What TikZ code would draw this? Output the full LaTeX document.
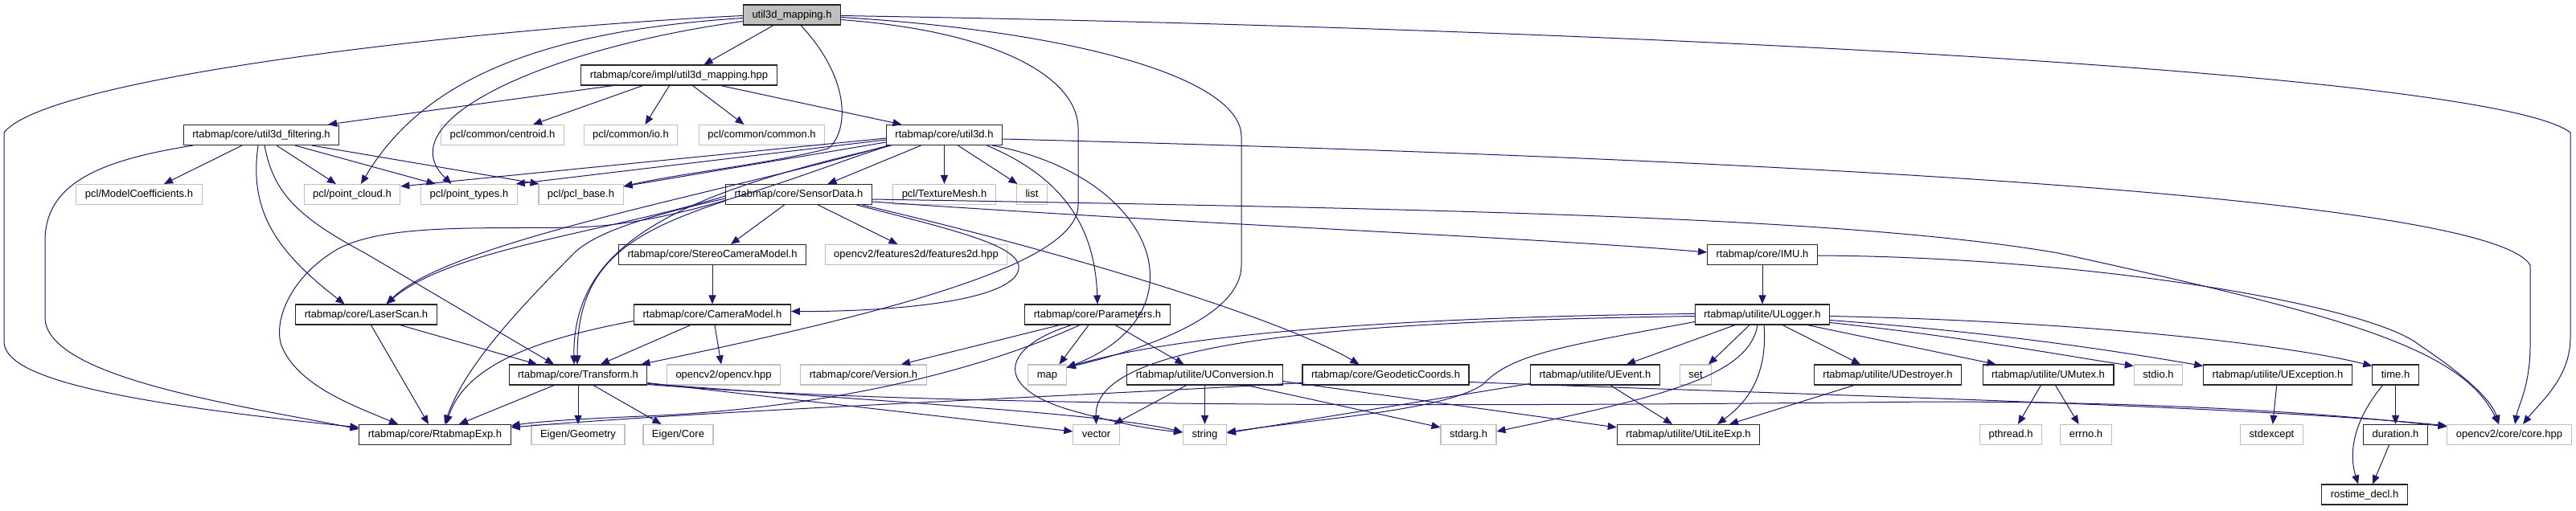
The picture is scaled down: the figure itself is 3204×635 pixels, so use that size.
\documentclass[tikz,border=0pt]{standalone}
\usepackage{fontspec}
\setmainfont{Liberation Sans}
\usetikzlibrary{arrows.meta}
\definecolor{edgeblue}{HTML}{191970}
\definecolor{extgray}{HTML}{BFBFBF}
\definecolor{mainfill}{HTML}{BFBFBF}
\tikzset{
  box/.style={rectangle, inner xsep=11pt, inner ysep=0pt, minimum height=25pt,
    text height=9.6pt, text depth=2.6pt, font=\fontsize{13}{15}\selectfont, fill=white, line width=1.1pt},
  doc/.style={box, draw=black!85},
  ext/.style={box, draw=extgray},
  mainbox/.style={box, draw=black!85, fill=mainfill},
  e/.style={draw=edgeblue, line width=1pt, -{Triangle[length=11pt,width=9pt]}, fill=none}
}
\begin{document}
\begin{tikzpicture}[x=1pt,y=-1pt]
\useasboundingbox[fill=white] (0,0) rectangle (3204,635);
% row 0-1
\node[mainbox] (main) at (985,18.5) {util3d\_mapping.h};
\node[doc] (impl) at (844.5,93.5) {rtabmap/core/impl/util3d\_mapping.hpp};
% row 2
\node[doc] (filt) at (325,168) {rtabmap/core/util3d\_filtering.h};
\node[ext] (cent) at (625,168) {pcl/common/centroid.h};
\node[ext] (io) at (784.5,168) {pcl/common/io.h};
\node[ext] (comm) at (947.5,168) {pcl/common/common.h};
\node[doc] (u3d) at (1174.5,168) {rtabmap/core/util3d.h};
% row 3
\node[ext] (mc) at (173,242) {pcl/ModelCoefficients.h};
\node[ext] (pc) at (438,242) {pcl/point\_cloud.h};
\node[ext] (pt) at (583.5,242) {pcl/point\_types.h};
\node[ext] (pb) at (722.5,242) {pcl/pcl\_base.h};
\node[doc] (sd) at (993.5,242) {rtabmap/core/SensorData.h};
\node[ext] (tm) at (1174.5,242) {pcl/TextureMesh.h};
\node[ext] (list) at (1283.5,242) {list};
% row 4
\node[doc] (scm) at (886,317) {rtabmap/core/StereoCameraModel.h};
\node[ext] (f2d) at (1139.5,317) {opencv2/features2d/features2d.hpp};
\node[doc] (imu) at (2192,317) {rtabmap/core/IMU.h};
% row 5
\node[doc] (ls) at (455.5,391.5) {rtabmap/core/LaserScan.h};
\node[doc] (cm) at (886,391.5) {rtabmap/core/CameraModel.h};
\node[doc] (par) at (1365,391.5) {rtabmap/core/Parameters.h};
\node[doc] (ulog) at (2192,391.5) {rtabmap/utilite/ULogger.h};
% row 6
\node[doc] (tr) at (719,466.5) {rtabmap/core/Transform.h};
\node[ext] (ocv) at (900,466.5) {opencv2/opencv.hpp};
\node[ext] (ver) at (1074,466.5) {rtabmap/core/Version.h};
\node[ext] (map) at (1302.5,466.5) {map};
\node[doc] (uconv) at (1498.5,466.5) {rtabmap/utilite/UConversion.h};
\node[doc] (geo) at (1723.5,466.5) {rtabmap/core/GeodeticCoords.h};
\node[doc] (uev) at (1984,466.5) {rtabmap/utilite/UEvent.h};
\node[ext] (set) at (2109,466.5) {set};
\node[doc] (udes) at (2348,466.5) {rtabmap/utilite/UDestroyer.h};
\node[doc] (umut) at (2547.5,466.5) {rtabmap/utilite/UMutex.h};
\node[ext] (stdio) at (2684.5,466.5) {stdio.h};
\node[doc] (uexc) at (2833,466.5) {rtabmap/utilite/UException.h};
\node[doc] (time) at (2979.5,466.5) {time.h};
% row 7
\node[doc] (rexp) at (541,541) {rtabmap/core/RtabmapExp.h};
\node[ext] (eg) at (719,541) {Eigen/Geometry};
\node[ext] (ec) at (843.5,541) {Eigen/Core};
\node[ext] (vec) at (1363.5,541) {vector};
\node[ext] (str) at (1498.5,541) {string};
\node[ext] (sa) at (1826.5,541) {stdarg.h};
\node[doc] (ule) at (2100,541) {rtabmap/utilite/UtiLiteExp.h};
\node[ext] (pth) at (2501,541) {pthread.h};
\node[ext] (errno) at (2594.5,541) {errno.h};
\node[ext] (sexc) at (2825.5,541) {stdexcept};
\node[doc] (dur) at (2979.5,541) {duration.h};
\node[ext] (core) at (3121,541) {opencv2/core/core.hpp};
% row 8
\node[doc] (rost) at (2941,615.5) {rostime\_decl.h};

% ---- edges from util3d_mapping.h
\draw[e] ([xshift=-23pt]main.south) -- ([xshift=31pt]impl.north);
\draw[e] ([yshift=-1pt]main.west) .. controls (600,35) and (60,95) .. (5,165) -- (5,425) .. controls (5,470) and (140,500) .. ([yshift=9pt]rexp.west);
\draw[e] ([yshift=-4pt]main.west) .. controls (650,40) and (520,110) .. ([xshift=11pt]pc.north);
\draw[e] ([yshift=-8pt]main.west) .. controls (680,60) and (480,150) .. ([xshift=-22pt]pt.north);
\draw[e] ([xshift=11pt]main.south) .. controls (1060,100) and (1055,165) .. (1030,185) .. controls (950,205) and (850,215) .. ([yshift=-3pt]pb.north east);
\draw[e] ([yshift=-1pt]main.east) .. controls (2000,35) and (3100,90) .. (3197,165) -- (3197,420) .. controls (3197,470) and (3160,500) .. ([xshift=17pt]core.north);
\draw[e] ([yshift=-6pt]main.east) .. controls (1250,40) and (1341,100) .. (1341,160) -- (1341,255) .. controls (1341,330) and (1100,390) .. ([xshift=-8pt]tr.north east);
\draw[e] ([yshift=-3pt]main.east) .. controls (1350,40) and (1544,100) .. (1544,170) -- (1544,330) .. controls (1544,400) and (1400,440) .. ([yshift=-4pt]map.north east);

% ---- impl
\draw[e] ([xshift=-82pt]impl.south) -- ([xshift=83pt]filt.north);
\draw[e] ([xshift=-45pt]impl.south) -- ([xshift=38pt]cent.north);
\draw[e] ([xshift=-12pt]impl.south) -- ([xshift=18pt]io.north);
\draw[e] ([xshift=17pt]impl.south) -- ([xshift=-22pt]comm.north);
\draw[e] ([xshift=52pt]impl.south) -- ([xshift=-53pt]u3d.north);

% ---- util3d_filtering
\draw[e] ([xshift=-85pt]filt.south) .. controls (120,200) and (56,230) .. (56,300) -- (56,395) .. controls (56,470) and (300,505) .. ([yshift=7pt]rexp.west);
\draw[e] ([xshift=-24pt]filt.south) -- ([xshift=31pt]mc.north);
\draw[e] ([xshift=-4pt]filt.south) .. controls (310,260) and (340,310) .. ([xshift=-27pt]ls.north);
\draw[e] ([xshift=4pt]filt.south) .. controls (340,240) and (370,270) .. (454,315) -- ([xshift=-30pt]tr.north);
\draw[e] ([xshift=19pt]filt.south) -- ([xshift=-20pt]pc.north);
\draw[e] ([xshift=42pt]filt.south) -- ([xshift=-42pt]pt.north);
\draw[e] ([xshift=63pt]filt.south) -- ([xshift=-52pt]pb.north);

% ---- util3d
\draw[e] ([yshift=-4pt]u3d.west) -- ([yshift=-3pt]pc.north east);
\draw[e] ([yshift=-6pt]u3d.west) -- ([xshift=-2pt]pt.north east);
\draw[e] ([yshift=-9pt]u3d.west) -- ([yshift=-3pt]pb.north east);
\draw[e] (u3d.south) -- (tm.north);
\draw[e] ([xshift=17pt]u3d.south) -- ([xshift=-18pt]list.north);
\draw[e] ([xshift=-29pt]u3d.south) -- ([xshift=36pt]sd.north);
\draw[e] ([xshift=53pt]u3d.south) .. controls (1320,220) and (1362,280) .. (par.north);
\draw[e] ([xshift=60pt]u3d.south) .. controls (1440,220) and (1500,390) .. ([yshift=-4pt]map.north east);
\draw[e] ([yshift=-5pt]u3d.east) .. controls (2300,200) and (3100,250) .. (3147,330) -- (3147,430) .. controls (3147,480) and (3132,505) .. ([xshift=7pt]core.north);
\draw[e] ([xshift=-68pt]u3d.south) .. controls (1000,215) and (850,280) .. (713,283) .. controls (600,285) and (480,278) .. (420,310) .. controls (360,345) and (340,400) .. (350,430) .. controls (370,480) and (440,505) .. ([xshift=-46pt]rexp.north);
\draw[e] ([xshift=-70pt]u3d.south) .. controls (900,240) and (560,300) .. ([xshift=25pt]ls.north);
\draw[e] ([xshift=-66pt]u3d.south) .. controls (850,240) and (712,300) .. ([xshift=-5pt]tr.north);

% ---- SensorData
\draw[e] ([xshift=-18pt]sd.south) -- ([xshift=23pt]scm.north);
\draw[e] ([xshift=24pt]sd.south) -- ([xshift=-23pt]f2d.north);
\draw[e] ([xshift=72pt]sd.south) .. controls (1200,290) and (1290,310) .. (1262,345) .. controls (1230,380) and (1080,388) .. ([yshift=4pt]cm.east);
\draw[e] ([xshift=79pt]sd.south) .. controls (1350,320) and (1600,400) .. ([xshift=-33pt]geo.north);
\draw[e] ([yshift=-9pt]sd.east) .. controls (1500,280) and (1900,295) .. ([yshift=3pt]imu.west);
\draw[e] ([yshift=-6pt]sd.east) .. controls (1800,260) and (2300,270) .. (2560,315) .. controls (2900,390) and (3060,430) .. ([xshift=-13pt]core.north);
\draw[e] ([yshift=-5pt]sd.west) .. controls (800,270) and (740,290) .. (714,315) .. controls (660,370) and (580,450) .. ([xshift=12pt]rexp.north);
\draw[e] ([yshift=-2pt]sd.west) .. controls (750,290) and (560,310) .. ([xshift=25pt]ls.north);
\draw[e] ([yshift=-8pt]sd.west) .. controls (780,290) and (718,330) .. ([xshift=-1pt]tr.north);

% ---- StereoCameraModel, CameraModel, LaserScan
\draw[e] (scm) -- (cm);
\draw[e] ([xshift=-27pt]cm.south) -- ([xshift=28pt]tr.north);
\draw[e] ([xshift=3pt]cm.south) -- ([xshift=-3pt]ocv.north);
\draw[e] ([yshift=-8pt]cm.west) .. controls (680,420) and (580,450) .. ([xshift=14pt]rexp.north);
\draw[e] ([xshift=6pt]ls.south) -- ([xshift=-8pt]rexp.north);
\draw[e] ([xshift=42pt]ls.south) -- ([xshift=-51pt]tr.north);

% ---- Transform
\draw[e] ([xshift=-30pt]tr.south) -- ([xshift=30pt]rexp.north);
\draw[e] (tr) -- (eg);
\draw[e] ([xshift=19pt]tr.south) -- ([xshift=-21pt]ec.north);
\draw[e] ([yshift=-10pt]tr.east) -- ([yshift=4pt]vec.west);
\draw[e] ([yshift=-11pt]tr.east) .. controls (1100,500) and (1380,515) .. ([yshift=3pt]str.west);
\draw[e] ([yshift=-12pt]tr.east) .. controls (1200,510) and (1900,505) .. (2400,500) .. controls (2700,500) and (2900,515) .. ([yshift=-3pt]core.north west);

% ---- Parameters
\draw[e] ([xshift=-47pt]par.south) -- ([xshift=47pt]ver.north);
\draw[e] ([xshift=-11pt]par.south) -- ([xshift=15pt]map.north);
\draw[e] ([xshift=22pt]par.south) -- ([xshift=-26pt]uconv.north);
\draw[e] ([xshift=-32pt]par.south) .. controls (1250,430) and (1230,480) .. (1330,510) .. controls (1400,530) and (1440,535) .. ([yshift=3pt]str.west);
\draw[e] ([xshift=-22pt]par.south) .. controls (1200,470) and (1000,510) .. (800,518) .. controls (700,522) and (660,526) .. ([yshift=-2pt]rexp.north east);

% ---- UConversion, GeodeticCoords
\draw[e] ([xshift=-23pt]uconv.south) -- ([xshift=22pt]vec.north);
\draw[e] (uconv) -- (str);
\draw[e] ([xshift=52pt]uconv.south) -- ([yshift=-4pt]sa.north west);
\draw[e] ([yshift=-8pt]uconv.east) -- ([yshift=-4pt]ule.north west);
\draw[e] ([yshift=-10pt]geo.west) .. controls (1300,495) and (900,510) .. ([yshift=-4pt]rexp.north east);
\draw[e] ([yshift=-9pt]geo.east) .. controls (2200,490) and (2800,505) .. ([yshift=-2pt]core.north west);

% ---- IMU
\draw[e] (imu) -- (ulog);
\draw[e] ([yshift=-1pt]imu.east) .. controls (2600,320) and (2950,380) .. (3010,430) .. controls (3070,470) and (3100,500) .. ([xshift=-13pt]core.north);

% ---- ULogger
\draw[e] ([yshift=1pt]ulog.west) .. controls (1700,395) and (1450,420) .. ([yshift=-4pt]map.north east);
\draw[e] ([yshift=-2pt]ulog.west) .. controls (1700,400) and (1360,420) .. (vec.north);
\draw[e] ([yshift=-9pt]ulog.west) .. controls (1950,430) and (1880,440) .. (1845,478) .. controls (1800,510) and (1650,520) .. ([yshift=3pt]str.east);
\draw[e] ([xshift=-34pt]ulog.south) -- ([xshift=39pt]uev.north);
\draw[e] ([xshift=-16pt]ulog.south) -- ([xshift=16pt]set.north);
\draw[e] ([xshift=-6pt]ulog.south) .. controls (2175,470) and (2060,495) .. ([yshift=4pt]sa.east);
\draw[e] ([xshift=2pt]ulog.south) .. controls (2200,480) and (2160,510) .. ([xshift=36pt]ule.north);
\draw[e] ([xshift=25pt]ulog.south) -- ([xshift=-34pt]udes.north);
\draw[e] ([xshift=56pt]ulog.south) -- ([xshift=-65pt]umut.north);
\draw[e] ([yshift=-10pt]ulog.east) .. controls (2450,420) and (2580,445) .. ([yshift=-2pt]stdio.north west);
\draw[e] ([yshift=-7pt]ulog.east) .. controls (2500,415) and (2650,440) .. ([yshift=-2pt]uexc.north west);
\draw[e] ([yshift=-2pt]ulog.east) .. controls (2600,400) and (2850,430) .. ([yshift=-2pt]time.north west);

% ---- utilite leaves
\draw[e] ([yshift=-11pt]uev.west) -- ([yshift=2pt]str.east);
\draw[e] ([xshift=19pt]uev.south) -- ([xshift=-20pt]ule.north);
\draw[e] ([xshift=-42pt]udes.south) -- ([xshift=51pt]ule.north);
\draw[e] ([xshift=-9pt]umut.south) -- ([xshift=9pt]pth.north);
\draw[e] ([xshift=9pt]umut.south) -- ([xshift=-9pt]errno.north);
\draw[e] (uexc) -- (sexc);
\draw[e] (time) -- (dur);
\draw[e] ([xshift=-16pt]time.south) .. controls (2930,520) and (2920,560) .. ([xshift=-8pt]rost.north);
\draw[e] ([xshift=-8pt]dur.south) -- ([xshift=10pt]rost.north);
\end{tikzpicture}
\end{document}
